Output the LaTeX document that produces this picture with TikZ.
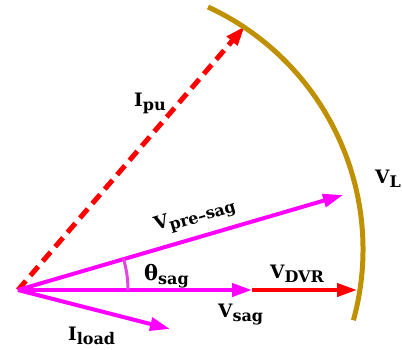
\documentclass[tikz,border=0pt]{standalone}
\usepackage{fontspec}
\setmainfont{DejaVu Serif}
\usetikzlibrary{arrows.meta}
\definecolor{mag}{RGB}{255,0,255}
\definecolor{redv}{RGB}{255,0,0}
\definecolor{goldarc}{RGB}{191,144,0}
\definecolor{orch}{RGB}{225,70,225}
\newcommand\phlbl[2]{#1\raisebox{-4pt}{\fontsize{16}{16}\selectfont #2}}
\begin{document}
\begin{tikzpicture}[x=1pt,y=-1pt,
  vec/.style={line width=4pt, -{Triangle[length=20pt,width=13pt]}},
  lab/.style={font=\fontsize{18.5}{22}\selectfont\bfseries, inner sep=0pt, anchor=base west}]
\useasboundingbox (0,0) rectangle (402,349);
\coordinate (O) at (18,290);
\coordinate (Ipu) at (245,26);
\coordinate (Vpre) at (343,195);
\coordinate (Vsag) at (252,290);
\coordinate (Vdvr) at (357,290);
\coordinate (Iload) at (170,329);
\coordinate (A0) at (128,290);
% vectors
\draw[vec, redv, line width=5pt, dash pattern=on 12pt off 7pt] (O) -- (Ipu);
\draw[vec, mag] (O) -- (Vpre);
\draw[vec, mag] (O) -- (Iload);
\draw[vec, redv] (Vsag) -- (Vdvr);
\draw[vec, mag] (O) -- (Vsag);
% angle arc
\draw[orch, line width=3pt] (A0) arc[start angle=0, end angle=-16.6, radius=110];
% load voltage arc
\draw[goldarc, line width=5pt] (208,7) arc[start angle=-65.2, end angle=15.4, radius=267];
% labels
\node[lab] (lIpu) at (134,106) {\phlbl{I}{pu}};
\node[lab] (lVL) at (375,183) {\phlbl{V}{L}};
\node[lab, rotate=16.6] (lVpre) at (156,231) {\phlbl{V}{pre--sag}};
\node[lab] (lth) at (144,280) {\phlbl{{\fontsize{21}{22}\selectfont θ}}{sag}};
\node[lab] (lVdvr) at (270,278) {\phlbl{V}{DVR}};
\node[lab] (lVsag) at (218,317) {\phlbl{V}{sag}};
\node[lab] (lIload) at (68,340) {\phlbl{I}{load}};
\end{tikzpicture}
\end{document}
